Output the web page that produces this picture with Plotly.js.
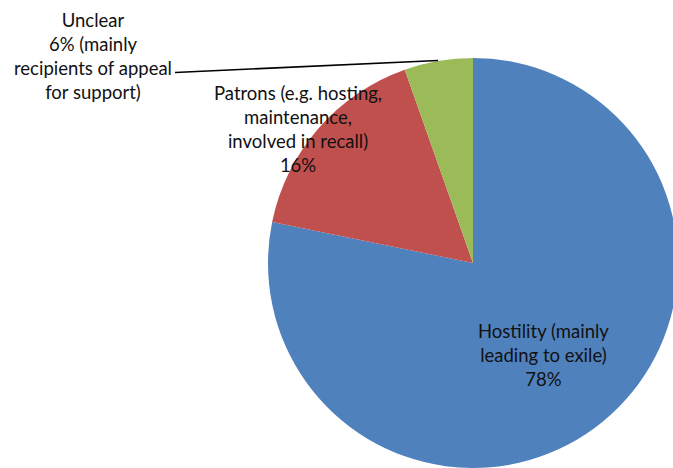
<!DOCTYPE html>
<html>
<head>
<meta charset="utf-8">
<script src="https://cdn.plot.ly/plotly-3.0.1.min.js"></script>
<style>
  html, body { margin: 0; padding: 0; overflow: hidden; background: #fff; }
  #chart { width: 946px; height: 468px; }
</style>
</head>
<body>
<div id="chart"></div>
<script>
// ---- data ----
const categories = [
  "Hostility (mainly leading to exile)",
  "Patrons (e.g. hosting, maintenance, involved in recall)",
  "Unclear (mainly recipients of appeal for support)"
];
const values = [78.2, 16.4, 5.4];
const sliceColors = ["#4F81BD", "#C0504D", "#9BBB59"];
const labelTexts = [
  "Hostility (mainly<br>leading to exile)<br>78%",
  "Patrons (e.g. hosting,<br>maintenance,<br>involved in recall)<br>16%",
  "Unclear<br>6% (mainly<br>recipients of appeal<br>for support)"
];

// ---- layout helpers (pixel -> paper) ----
const W = 946, H = 468, T = 58, PH = H - T;
const px = x => x / W;
const py = y => (H - y) / PH;

const labelPos = [
  [543, 355],
  [298, 129],
  [93, 56]
];

const fontFamily = "Lato, 'Open Sans', sans-serif";

const trace = {
  type: "pie",
  labels: categories,
  values: values,
  sort: false,
  direction: "clockwise",
  rotation: 0,
  textinfo: "none",
  hoverinfo: "label+percent",
  marker: { colors: sliceColors, line: { width: 0 } }
};

const annotations = labelTexts.map((t, i) => ({
  text: t,
  x: px(labelPos[i][0]),
  y: py(labelPos[i][1]),
  xref: "paper", yref: "paper",
  xanchor: "center", yanchor: "middle",
  showarrow: false,
  align: "center",
  font: { family: fontFamily, size: 18.5, color: "#111" }
}));

const layout = {
  width: W, height: H,
  margin: { l: 0, r: 0, t: T, b: 0, pad: 0 },
  showlegend: false,
  paper_bgcolor: "#fff",
  font: { family: fontFamily },
  annotations: annotations,
  shapes: [{
    type: "line", xref: "paper", yref: "paper",
    x0: px(175), y0: py(72.5), x1: px(438), y1: py(60.5),
    line: { color: "#000", width: 1.6 }
  }]
};

Plotly.newPlot("chart", [trace], layout, { staticPlot: true, displayModeBar: false });
</script>
</body>
</html>
